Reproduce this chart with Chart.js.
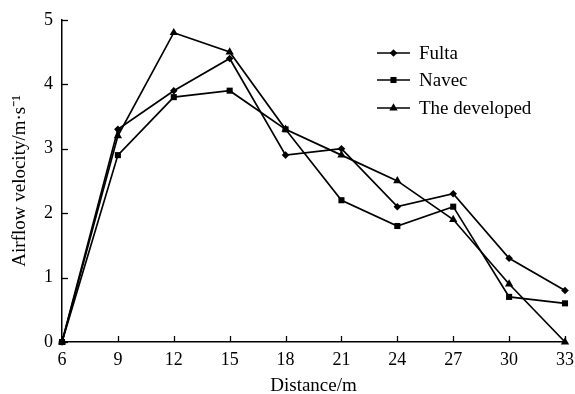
<!DOCTYPE html>
<html><head><meta charset="utf-8">
<script src="https://cdn.jsdelivr.net/npm/chart.js@4"></script>
<style>html,body{margin:0;padding:0;background:#fff}#wrap{width:575px;height:394px}</style>
</head><body><div id="wrap"><canvas id="c" width="575" height="394"></canvas></div>
<script>
const distances = [6, 9, 12, 15, 18, 21, 24, 27, 30, 33];
const fulta = [0, 3.3, 3.9, 4.4, 2.9, 3.0, 2.1, 2.3, 1.3, 0.8];
const navec = [0, 2.9, 3.8, 3.9, 3.3, 2.2, 1.8, 2.1, 0.7, 0.6];
const developed = [0, 3.2, 4.8, 4.5, 3.3, 2.9, 2.5, 1.9, 0.9, 0.0];
const seriesNames = ['Fulta', 'Navec', 'The developed'];
const yTicks = [0, 1, 2, 3, 4, 5];

const FONT = "'Liberation Serif', 'Times New Roman', serif";
const pts = arr => arr.map((v, i) => ({x: distances[i], y: v}));
const styles = [
  {pointStyle: 'rectRot', pointRadius: 3.8},
  {pointStyle: 'rect', pointRadius: 4.3},
  {pointStyle: 'triangle', pointRadius: 4.8}
];
const datasets = [fulta, navec, developed].map((arr, i) => ({
  label: seriesNames[i], data: pts(arr),
  borderColor: '#000', backgroundColor: '#000', borderWidth: 1.7,
  pointStyle: styles[i].pointStyle, pointRadius: styles[i].pointRadius,
  pointBorderWidth: 0, tension: 0, clip: false
}));

const inwardTicks = {
  id: 'inwardTicks',
  afterDraw(chart) {
    const ctx = chart.ctx, x = chart.scales.x, y = chart.scales.y;
    ctx.save();
    ctx.strokeStyle = '#000'; ctx.lineWidth = 1.3;
    distances.forEach(d => {
      const px = Math.round(x.getPixelForValue(d)) + 0.5;
      ctx.beginPath(); ctx.moveTo(px, y.bottom); ctx.lineTo(px, y.bottom - 6); ctx.stroke();
    });
    yTicks.forEach(v => {
      const py = Math.round(y.getPixelForValue(v)) + 0.5;
      ctx.beginPath(); ctx.moveTo(x.left, py); ctx.lineTo(x.left + 6, py); ctx.stroke();
    });
    // legend
    const lx = 377, ly = [53, 80, 108];
    ctx.font = '19px ' + FONT; ctx.fillStyle = '#000'; ctx.textBaseline = 'middle';
    datasets.forEach((ds, i) => {
      ctx.lineWidth = 1.7;
      ctx.beginPath(); ctx.moveTo(lx, ly[i]); ctx.lineTo(lx + 33, ly[i]); ctx.stroke();
      Chart.helpers.drawPoint(ctx, {pointStyle: ds.pointStyle, radius: ds.pointRadius, borderWidth: 0}, lx + 16.5, ly[i]);
      ctx.fillText(ds.label, lx + 42, ly[i] + 1);
    });
    ctx.restore();
  }
};

new Chart(document.getElementById('c'), {
  type: 'line',
  data: {datasets},
  options: {
    responsive: false, animation: false,
    layout: {padding: {top: 19, right: 10, left: 0, bottom: 0}},
    plugins: {legend: {display: false}, tooltip: {enabled: false}},
    scales: {
      x: {
        type: 'linear', min: 6, max: 33,
        afterBuildTicks: s => { s.ticks = distances.map(v => ({value: v})); },
        afterFit: s => { s.height = 52; s.paddingRight = 0; },
        grid: {display: false, drawTicks: false},
        border: {color: '#000', width: 1.5},
        ticks: {color: '#000', font: {family: FONT, size: 18}, padding: 7, maxRotation: 0},
        title: {display: true, text: 'Distance/m', color: '#000', font: {family: FONT, size: 19, lineHeight: 0.8}, padding: {top: 0, bottom: 0}}
      },
      y: {
        min: 0, max: 5,
        afterBuildTicks: s => { s.ticks = yTicks.map(v => ({value: v})); },
        afterFit: s => { s.width = 62; },
        grid: {display: false, drawTicks: false},
        border: {color: '#000', width: 1.5},
        ticks: {color: '#000', font: {family: FONT, size: 18}, padding: 9},
        title: {display: true, text: 'Airflow velocity/m·s⁻¹', color: '#000', font: {family: FONT, size: 19}, padding: {top: 9, bottom: 0}}
      }
    }
  },
  plugins: [inwardTicks]
});
</script></body></html>
